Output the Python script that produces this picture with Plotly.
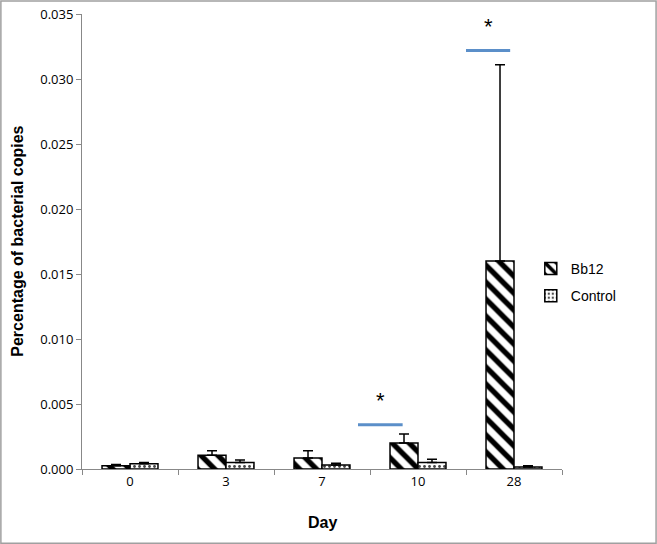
import plotly.graph_objects as go

days = ["0", "3", "7", "10", "28"]
bb12 = [0.00025, 0.00105, 0.00085, 0.0020, 0.0160]
bb12_err = [0.0001, 0.00035, 0.00055, 0.0007, 0.0151]
control = [0.0004, 0.0005, 0.0003, 0.0005, 0.00015]
control_err = [0.0001, 0.0002, 0.00015, 0.00025, 0.0001]

# significance markers
sig_days = ["10", "28"]
sig_levels = [0.0034, 0.0322]

fig = go.Figure()
fig.add_trace(go.Bar(
    name="Bb12", x=days, y=bb12, legendgroup="a",
    error_y=dict(type="data", array=bb12_err, arrayminus=[0]*5, symmetric=False,
                 color="black", thickness=1.5, width=5),
    marker=dict(color="white", line=dict(color="black", width=1.5),
                pattern=dict(shape="\\", fgcolor="black", bgcolor="white", fgopacity=1,
                             size=12, solidity=0.45)),
))
fig.add_trace(go.Bar(
    name="Control", x=days, y=control, legendgroup="b",
    error_y=dict(type="data", array=control_err, arrayminus=[0]*5, symmetric=False,
                 color="black", thickness=1.5, width=5),
    marker=dict(color="white", line=dict(color="black", width=1.5),
                pattern=dict(shape=".", fgcolor="#444", bgcolor="white", fgopacity=1,
                             size=5, solidity=0.25)),
))

offsets = [(-0.625, -0.16), (-0.5, -0.04)]
for d, lvl, (a, b) in zip(sig_days, sig_levels, offsets):
    i = days.index(d)
    fig.add_shape(type="line", xref="x", yref="y", x0=i + a, x1=i + b, y0=lvl, y1=lvl,
                  line=dict(color="#5b8fc9", width=3))
    fig.add_annotation(x=i + (a + b) / 2, y=lvl, xref="x", yref="y", text="*",
                       showarrow=False, yshift=24, font=dict(size=22, color="black"))

# axis titles
fig.add_annotation(text="<b>Day</b>", xref="paper", yref="paper", x=0.5, y=-0.117,
                   yanchor="middle", showarrow=False, font=dict(size=16))
fig.add_annotation(text="<b>Percentage of bacterial copies</b>", xref="paper", yref="paper",
                   x=-0.135, y=0.5, textangle=-90, xanchor="center", yanchor="middle",
                   showarrow=False, font=dict(size=16))

# outer border
fig.add_shape(type="rect", xref="paper", yref="paper",
              x0=-0.169, x1=1.196, y0=-0.163, y1=1.0286,
              line=dict(color="#a0a0a0", width=1.5), fillcolor="rgba(0,0,0,0)", layer="below")

fig.update_layout(
    width=657, height=544,
    margin=dict(l=82, r=95, t=14, b=75, autoexpand=False),
    plot_bgcolor="white", paper_bgcolor="white",
    barmode="group", bargap=0.417, bargroupgap=0,
    font=dict(family="Liberation Sans, Arial, sans-serif", color="black"),
    showlegend=True,
    legend=dict(x=0.935, y=0.41, xanchor="left", yanchor="middle", traceorder="grouped",
                font=dict(size=14), bgcolor="rgba(0,0,0,0)", tracegroupgap=6),
    xaxis=dict(automargin=False,
               showline=True, linecolor="#888", linewidth=1,
               ticks="outside", tickson="boundaries", ticklen=5, tickcolor="#888",
               tickfont=dict(size=13, family="Open Sans, sans-serif")),
    yaxis=dict(automargin=False,
               range=[0, 0.035], dtick=0.005, tickformat=".3f",
               showline=True, linecolor="#888", linewidth=1,
               ticks="outside", ticklen=5, tickcolor="#888", showgrid=False, zeroline=False,
               tickfont=dict(size=13, family="Open Sans, sans-serif")),
)

fig.write_html("out.html", config={"displayModeBar": False},
               post_script="document.body.style.margin='0';")
